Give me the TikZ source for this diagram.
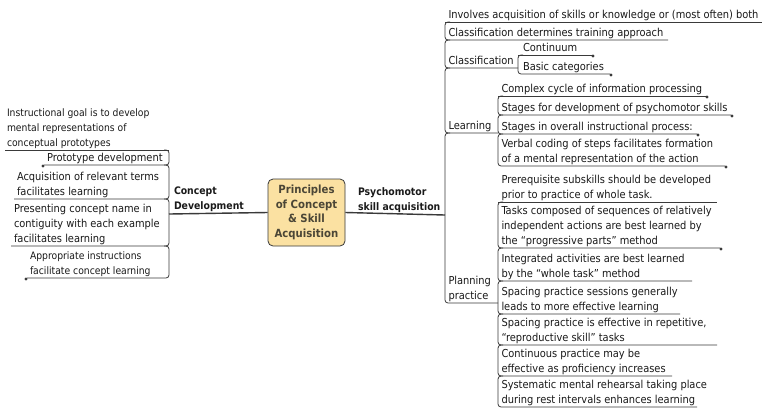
\documentclass[tikz,border=0pt]{standalone}
\usepackage{fontspec}
\IfFontExistsTF{DejaVu Sans Condensed}{\setmainfont{DejaVu Sans Condensed}}{\setmainfont[FakeStretch=0.9]{DejaVu Sans}}
\definecolor{linec}{HTML}{3A3A3A}
\definecolor{textc}{HTML}{1A1A1A}
\definecolor{boxfill}{HTML}{FBE1A2}
\definecolor{boxtext}{HTML}{4B4636}
\tikzset{
  ln/.style={draw=linec, line width=0.8bp, rounded corners=3bp},
  mainln/.style={draw=linec, line width=1.4bp},
  txt/.style={anchor=south west, align=left, inner sep=0pt, outer sep=0pt,
    font=\fontsize{11}{15.5}\selectfont, text=textc, execute at end node=\strut},
  small/.style={font=\fontsize{10.3}{15.5}\selectfont},
  btxt/.style={txt, font=\fontsize{10.4}{15.5}\selectfont\bfseries},
  dotc/.style={fill=linec},
  centerbox/.style={draw=linec, line width=0.8bp, fill=boxfill, rounded corners=5bp,
    minimum width=77bp, minimum height=67bp, align=center, text=boxtext,
    font=\fontsize{11.3}{14.7}\selectfont\bfseries, inner sep=0pt}
}
% right side: first child (no top corner)
\newcommand\rfirst[4]{% name, xb, yU, text
  \node[txt] (#1) at (#2+3.5,#3+1.6) {#4};}
\newcommand\rline[4]{% name, xb, yU, xend
  \coordinate (#1-e) at (#4,#3);
  \draw[ln] (#2,#3) -- (#1-e);}
\newcommand\rchild[6]{% name, xb, yprev, yU, xend, text
  \node[txt] (#1) at (#2+3.5,#4+1.6) {#6};
  \coordinate (#1-e) at (#5,#4);
  \draw[ln] (#2+5,#3) -- (#2,#3) -- (#2,#4) -- (#1-e);}
\newcommand\lchild[7][]{% [opts], name, xb, yprev, yU, xstart, text
  \node[txt,#1] (#2) at (#6+3,#5+1.6) {#7};
  \coordinate (#2-e) at (#6,#5);
  \draw[ln] (#3-5,#4) -- (#3,#4) -- (#3,#5) -- (#2-e);}
\newcommand\rdot[1]{\fill[dotc] ([shift={(1,1)}]#1-e) circle (1.6bp);}
\newcommand\ldot[1]{\fill[dotc] ([shift={(-1,1)}]#1-e) circle (1.6bp);}
\begin{document}
\begin{tikzpicture}[x=1bp,y=-1bp]
\fill[white] (0,0) rectangle (763,409);
\useasboundingbox (0,0) rectangle (763,409);

% center
\node[centerbox] (c) at (306.5,212.5) {Principles\\of Concept\\\& Skill\\Acquisition};

% main connectors
\coordinate (cdj) at (169,214);
\coordinate (psj) at (445,215);
\draw[mainln] (c.west) -- (cdj);
\draw[mainln] (c.east) -- (psj);
\node[btxt] (cd) at (174,214.6) {Concept\\Development};
\node[btxt] (ps) at (358,215.6) {Psychomotor\\skill acquisition};

% ---------------- right main bracket
\rfirst{inv}{445}{22}{Involves acquisition of skills or knowledge or (most often) both}
\rline{inv}{445}{22}{762}
\rchild{cdt}{445}{22}{40}{668}{Classification determines training approach}
\rchild{cls}{445}{40}{68}{518}{Classification}
\rchild{lrn}{445}{68}{133}{498}{Learning}
\rchild{pln}{445}{133}{303}{498}{Planning\\practice}

% classification
\rfirst{con}{519.5}{55}{Continuum}
\rline{con}{518}{55}{592}
\rchild{bas}{518}{55}{74}{610}{\hspace{1.5bp}Basic categories}
\rdot{con}\rdot{bas}

% learning
\rfirst{cc}{498}{96}{Complex cycle of information processing}
\rline{cc}{498}{96}{706}
\rchild{sf}{498}{96}{115}{731}{Stages for development of psychomotor skills}
\rchild{si}{498}{115}{134}{697}{Stages in overall instructional process:}
\rchild{vc}{498}{134}{166}{725}{Verbal coding of steps facilitates formation\\of a mental representation of the action}
\rdot{cc}\rdot{sf}\rdot{si}\rdot{vc}

% planning practice
\rfirst{pre}{498}{202}{Prerequisite subskills should be developed\\prior to practice of whole task.}
\rline{pre}{498}{202}{717}
\rchild{tc}{498}{202}{248}{720}{Tasks composed of sequences of relatively\\independent actions are best learned by\\the “progressive parts” method}
\rchild{ia}{498}{248}{281}{692}{Integrated activities are best learned\\by the “whole task” method}
\rchild{sp1}{498}{281}{314}{680}{Spacing practice sessions generally\\leads to more effective learning}
\rchild{sp2}{498}{314}{345}{717}{Spacing practice is effective in repetitive,\\“reproductive skill” tasks}
\rchild{cp}{498}{345}{376}{672}{Continuous practice may be\\effective as proficiency increases}
\rchild{sm}{498}{376}{407}{697}{Systematic mental rehearsal taking place\\during rest intervals enhances learning}
\rdot{tc}

% ---------------- left bracket
\node[txt,small] (ig) at (7,151.6) {Instructional goal is to develop\\mental representations of\\conceptual prototypes};
\coordinate (ig-e) at (5,150);
\draw[ln] (169,150) -- (ig-e);
\lchild{pd}{169}{150}{165}{44}{Prototype development}
\lchild{ac}{169}{165}{199}{14}{Acquisition of relevant terms\\facilitates learning}
\lchild{pc}{169}{199}{246}{11}{Presenting concept name in\\contiguity with each example\\facilitates learning}
\lchild[small]{ai}{169}{246}{278}{27}{Appropriate instructions\\facilitate concept learning}
\ldot{pd}\ldot{ai}
\end{tikzpicture}
\end{document}
